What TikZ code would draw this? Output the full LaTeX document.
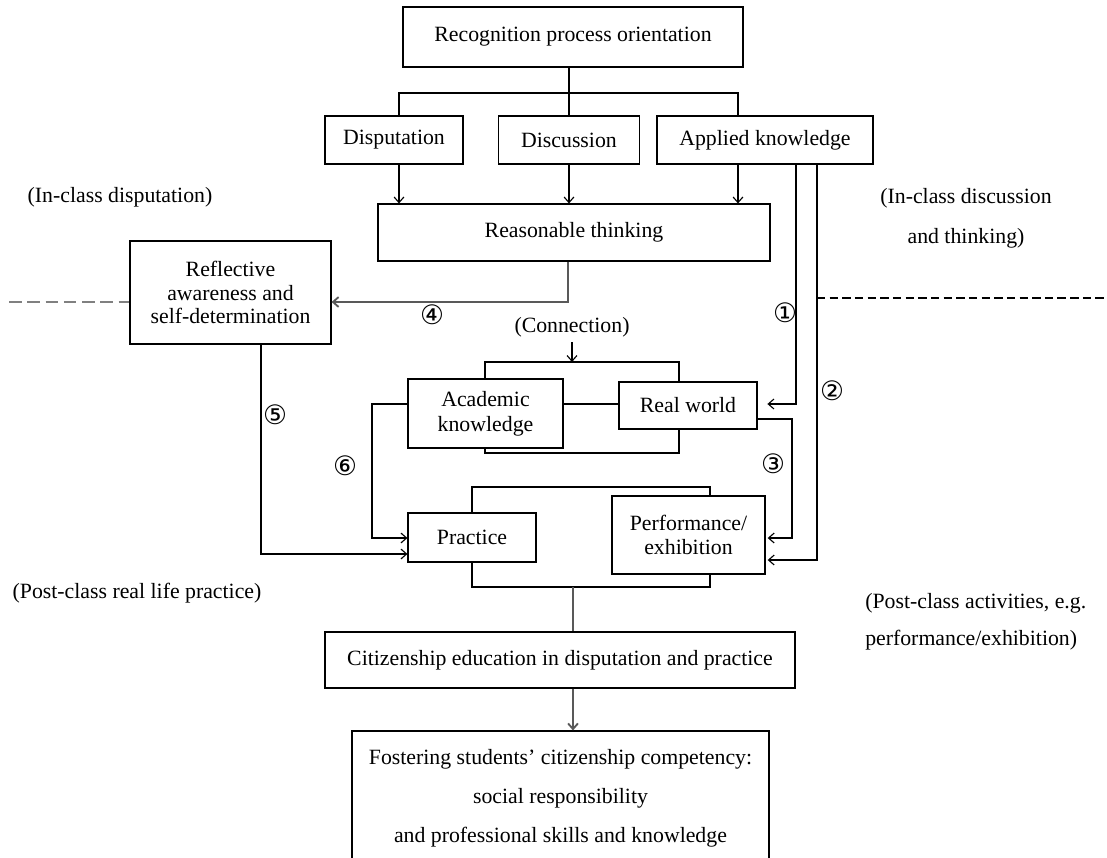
\documentclass[tikz,border=0pt]{standalone}
\usepackage{fontspec}
\setmainfont{Liberation Serif}
\newfontfamily\circfont{DejaVu Sans}
\usetikzlibrary{arrows.meta}

\begin{document}
\begin{tikzpicture}[x=0.025cm, y=-0.025cm, line width=0.8pt,
    every node/.style={font=\fontsize{15.5}{18}\selectfont},
    box/.style={draw, inner sep=0pt, align=center},
    arr/.style={-{Straight Barb[length=4pt,width=7pt]}},
    grayline/.style={gray!70!black, line width=1.3pt},
    num/.style={font=\circfont\fontsize{19}{19}\selectfont}]
  % coordinates are image pixels (y downwards), 1 px = 0.025 cm
  \def\pxu{0.025cm}
  \useasboundingbox (0,0) rectangle (1107,857);
  \fill[white] (0,0) rectangle (1107,857);
  \clip (0,0) rectangle (1107,857);

  % Boxes
  \node[box, minimum width=340*\pxu, minimum height=60*\pxu] (rec) at (573,37) {Recognition process orientation};
  \node[box, minimum width=138*\pxu, minimum height=48*\pxu] (disp) at (394,140) {Disputation};
  \node[box, minimum width=141*\pxu, minimum height=48*\pxu] (disc) at (569,140) {Discussion};
  \node[box, minimum width=216*\pxu, minimum height=48*\pxu] (appl) at (765,140) {Applied knowledge};
  \node[box, minimum width=392*\pxu, minimum height=57*\pxu] (reas) at (574,232.5) {Reasonable thinking};
  \node[box, minimum width=201*\pxu, minimum height=103*\pxu, font=\fontsize{15.5}{16.7}\selectfont] (refl) at (230.5,292.5)
    {Reflective\\awareness and\\self-determination};
  \node[box, minimum width=155*\pxu, minimum height=69*\pxu, font=\fontsize{15.5}{17.8}\selectfont] (acad) at (485.5,413.5)
    {Academic\\knowledge};
  \node[box, minimum width=138*\pxu, minimum height=47*\pxu] (real) at (688,405.5) {Real world};
  \node[box, minimum width=128*\pxu, minimum height=49*\pxu] (prac) at (472,537.5) {Practice};
  \node[box, minimum width=153*\pxu, minimum height=78*\pxu, font=\fontsize{15.5}{17}\selectfont] (perf) at (688.5,535)
    {Performance/\\exhibition};
  \node[box, minimum width=470*\pxu, minimum height=56*\pxu] (citz) at (560,660)
    {Citizenship education in disputation and practice};
  \node[box, minimum width=417*\pxu, minimum height=134*\pxu, font=\fontsize{15.5}{27.7}\selectfont] (fost) at (560.5,798)
    {Fostering students’ citizenship competency:\\social responsibility\\and professional skills and knowledge};

  % Side texts
  \node (lblDisp) at (120,197) {(In-class disputation)};
  \node[align=center, font=\fontsize{15.5}{28.5}\selectfont] (lblDisc) at (966,218) {(In-class discussion\\and thinking)};
  \node (lblPost) at (137,593) {(Post-class real life practice)};
  \node[align=left, anchor=west, font=\fontsize{15.5}{26.3}\selectfont] (lblAct) at (860,621.5)
    {(Post-class activities, e.g.\\performance/exhibition)};
  \node (conn) at (572,327) {(Connection)};

  % Top branch
  \coordinate (brL) at (399,93); \coordinate (brR) at (738,93);
  \draw (disc.north |- rec.south) -- (disc.north);
  \draw (disp.north -| brL) -- (brL) -- (brR) -- (appl.north -| brR);
  \draw[arr] (disp.south -| brL) -- (reas.north -| brL);
  \draw[arr] (disc.south) -- (disc.south |- reas.north);
  \draw[arr] (appl.south -| brR) -- (reas.north -| brR);

  % (4) back to reflection
  \coordinate (c4) at (568,302);
  \draw[grayline, arr] (reas.south -| c4) |- (refl.east |- c4);

  % (1) and (2) from applied knowledge
  \coordinate (c1) at (796,404); \coordinate (c2) at (817,560);
  \draw[arr, shorten >=7pt] (appl.south -| c1) |- (real.east |- c1);
  \draw[arr, shorten >=1.5pt] (appl.south -| c2) |- (perf.east |- c2);

  % Dashed separators
  \coordinate (dashL) at (9,302); \coordinate (dashR) at (1107,298);
  \draw[gray, line width=1.2pt, dash pattern=on 9pt off 4pt] (dashL) -- (refl.west |- dashL);
  \draw[dash pattern=on 6pt off 3pt] (c2 |- dashR) -- (dashR);

  % Academic knowledge <-> real world
  \coordinate (ubL) at (485,362); \coordinate (ubR) at (679,362);
  \coordinate (lbL) at (485,453); \coordinate (lbR) at (679,453);
  \coordinate (c6) at (372,404); \coordinate (c6b) at (372,538);
  \draw[arr] (conn.south) -- (conn.south |- ubL);
  \draw (acad.north -| ubL) -- (ubL) -- (ubR) -- (real.north -| ubR);
  \draw (acad.south -| lbL) -- (lbL) -- (lbR) -- (real.south -| lbR);
  \draw (acad.east |- c6) -- (real.west |- c6);

  % (3), (5), (6)
  \coordinate (c3) at (792,419); \coordinate (c3b) at (792,538);
  \draw[arr, shorten >=1.5pt] (real.east |- c3) -- (c3) -- (c3b) -- (perf.east |- c3b);
  \coordinate (c5) at (261,554);
  \draw[arr] (refl.south -| c5) |- (prac.west |- c5);
  \draw[arr] (acad.west |- c6) -- (c6) -- (c6b) -- (prac.west |- c6b);

  % Practice <-> performance, then down
  \coordinate (pbL) at (472,487); \coordinate (pbR) at (710,487);
  \coordinate (qbL) at (472,587); \coordinate (qbR) at (710,587); \coordinate (qbM) at (573,587);
  \draw (prac.north -| pbL) -- (pbL) -- (pbR) -- (perf.north -| pbR);
  \draw (prac.south -| qbL) -- (qbL) -- (qbR) -- (perf.south -| qbR);
  \draw[grayline] (qbM) -- (citz.north -| qbM);
  \draw[grayline, arr] (citz.south -| qbM) -- (fost.north -| qbM);

  % Numbers
  \node[num] (n1) at (785,313) {①};
  \node[num] (n2) at (832,391) {②};
  \node[num] (n3) at (773,464) {③};
  \node[num] (n4) at (432,315) {④};
  \node[num] (n5) at (275,415) {⑤};
  \node[num] (n6) at (345,466) {⑥};
\end{tikzpicture}
\end{document}
